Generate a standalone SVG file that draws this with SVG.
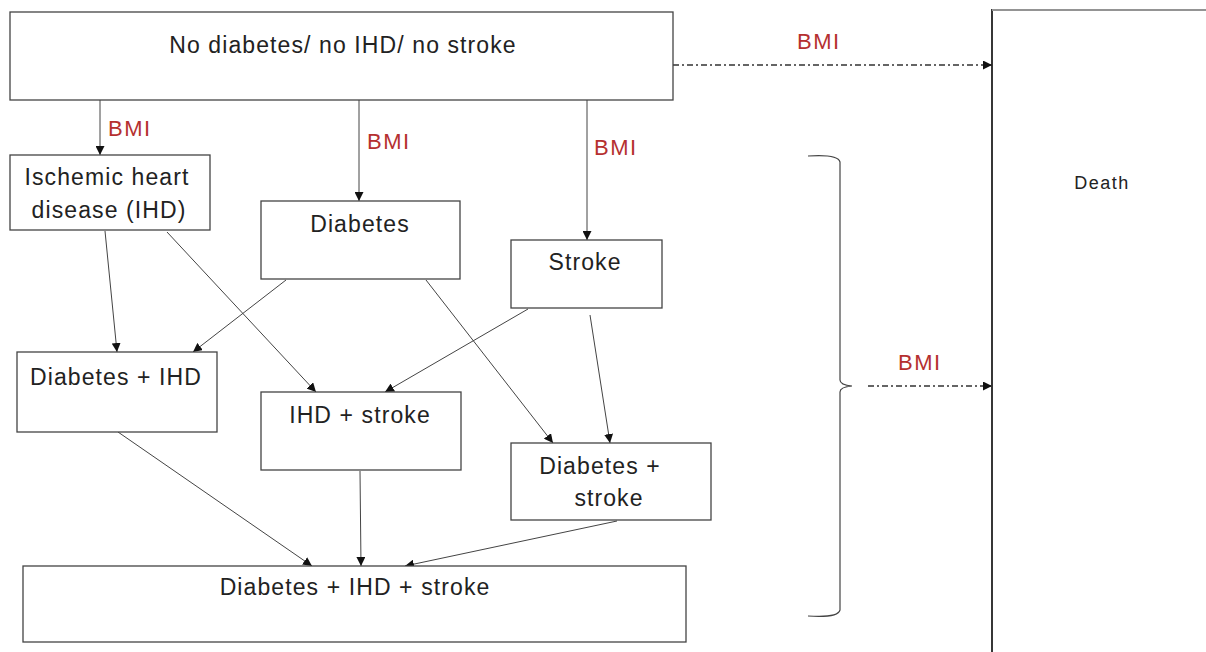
<svg xmlns="http://www.w3.org/2000/svg" width="1206" height="652" viewBox="0 0 1206 652">
<defs>
<style>
.box{fill:#fff;stroke:#444;stroke-width:1.3}
.t{font-family:"Liberation Sans",Arial,sans-serif;font-size:23px;letter-spacing:1.1px;fill:#222;text-anchor:middle}
.bmi{font-family:"Liberation Sans",Arial,sans-serif;font-size:22px;letter-spacing:1.5px;fill:#b5302f}
.c{stroke:#444;stroke-width:1;fill:none;marker-end:url(#ah)}
.d{stroke:#333;stroke-width:1.5;fill:none;stroke-dasharray:6 3 2 3;marker-end:url(#ah)}
</style>
<marker id="ah" viewBox="0 0 10 10" refX="10" refY="5" markerWidth="9" markerHeight="9" markerUnits="userSpaceOnUse" orient="auto">
<path d="M0,0 L10,5 L0,10 z" fill="#111"/>
</marker>
</defs>
<rect width="1206" height="652" fill="#fff"/>
<g id="connectors">
<line class="c" x1="100" y1="100" x2="100" y2="155"/>
<line class="c" x1="359" y1="100" x2="359" y2="201"/>
<line class="c" x1="587" y1="100" x2="587" y2="240"/>
<line class="d" x1="673" y1="65" x2="992" y2="65"/>
<line class="c" x1="105" y1="231" x2="117" y2="352"/>
<line class="c" x1="167" y1="232" x2="316" y2="392"/>
<line class="c" x1="286" y1="280" x2="193" y2="352"/>
<line class="c" x1="426" y1="280" x2="553" y2="443"/>
<line class="c" x1="528" y1="309" x2="385" y2="392"/>
<line class="c" x1="590" y1="315" x2="610" y2="443"/>
<line class="c" x1="118" y1="432" x2="312" y2="566"/>
<line class="c" x1="360" y1="471" x2="361" y2="566"/>
<line class="c" x1="617" y1="521" x2="405" y2="566"/>
<line class="d" x1="868" y1="386" x2="992" y2="386"/>
<path d="M808,156 Q838,154 840,162 L840,380 Q840,385 852,386 Q840,387 840,392 L840,610 Q838,618 808,616" fill="none" stroke="#444" stroke-width="1.2"/>
<text class="bmi" x="797" y="49">BMI</text>
<text class="bmi" x="108" y="136">BMI</text>
<text class="bmi" x="367" y="149">BMI</text>
<text class="bmi" x="594" y="155">BMI</text>
<text class="bmi" x="898" y="370">BMI</text>
</g>
<g id="n0"><rect class="box" x="10" y="12" width="663" height="88"/><text class="t" x="343" y="53">No diabetes/ no IHD/ no stroke</text></g>
<g id="n1"><rect class="box" x="10" y="155" width="200" height="75"/><text class="t" x="107" y="185">Ischemic heart</text><text class="t" x="109" y="218">disease (IHD)</text></g>
<g id="n2"><rect class="box" x="261" y="201" width="199" height="78"/><text class="t" x="360" y="232">Diabetes</text></g>
<g id="n3"><rect class="box" x="511" y="240" width="151" height="68"/><text class="t" x="585" y="270">Stroke</text></g>
<g id="n4"><rect class="box" x="17" y="352" width="200" height="80"/><text class="t" x="116" y="385">Diabetes + IHD</text></g>
<g id="n5"><rect class="box" x="261" y="392" width="200" height="78"/><text class="t" x="360" y="423">IHD + stroke</text></g>
<g id="n6"><rect class="box" x="511" y="443" width="200" height="77"/><text class="t" x="600" y="474">Diabetes +</text><text class="t" x="609" y="506">stroke</text></g>
<g id="n7"><rect class="box" x="23" y="566" width="663" height="76"/><text class="t" x="355" y="595">Diabetes + IHD + stroke</text></g>
<g id="death"><path d="M992,660 L992,10 L1210,10" fill="none" stroke="#222" stroke-width="1.8"/><path d="M992,10 L1210,10" stroke="#bbb" stroke-width="1.5"/><text class="t" x="1102" y="189" style="font-size:18px;letter-spacing:1.5px">Death</text></g>
</svg>
